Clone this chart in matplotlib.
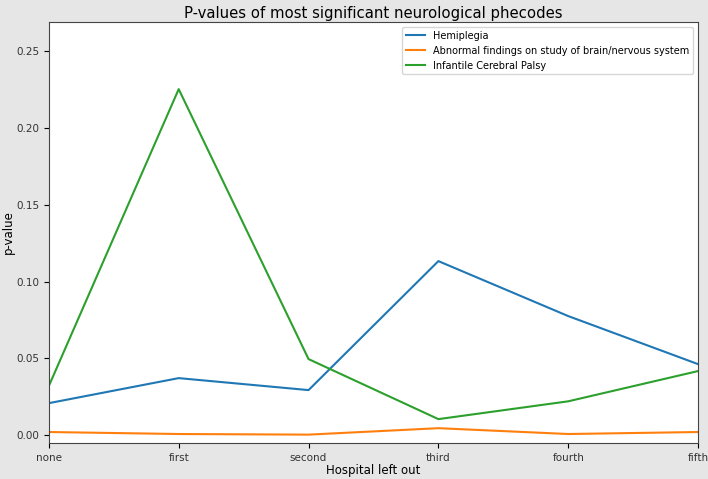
import numpy as np
import matplotlib.pyplot as plt

hospitals = ["none", "first", "second", "third", "fourth", "fifth"]
hemiplegia = [0.0208, 0.0371, 0.0293, 0.1133, 0.0775, 0.0462]
abnormal = [0.0020, 0.0007, 0.0003, 0.0045, 0.0007, 0.0020]
palsy = [0.0320, 0.2253, 0.0495, 0.0104, 0.0220, 0.0417]

fig = plt.figure(figsize=(7.08, 4.79), dpi=100, facecolor="#e6e6e6")
ax = fig.add_axes([0.069, 0.075, 0.917, 0.879])

x = np.arange(len(hospitals))
ax.plot(x, hemiplegia, label="Hemiplegia")
ax.plot(x, abnormal, label="Abnormal findings on study of brain/nervous system")
ax.plot(x, palsy, label="Infantile Cerebral Palsy")

ax.set_xticks(x)
ax.set_xticklabels(hospitals, fontsize=7.5, color="#333333")
ax.tick_params(axis="y", labelsize=7.5, labelcolor="#333333")
ax.set_xlim(0, 5)
ax.set_ylim(-0.0052, 0.269)
ax.set_xlabel("Hospital left out", fontsize=8.5, labelpad=1)
ax.set_ylabel("p-value", fontsize=8.5)
ax.yaxis.set_label_coords(-0.052, 0.5)
ax.set_title("P-values of most significant neurological phecodes", fontsize=10.7, pad=3)
ax.legend(loc="upper right", fontsize=7)
for s in ax.spines.values():
    s.set_color("#444444")

fig.savefig("out.png", dpi=100, facecolor=fig.get_facecolor())
